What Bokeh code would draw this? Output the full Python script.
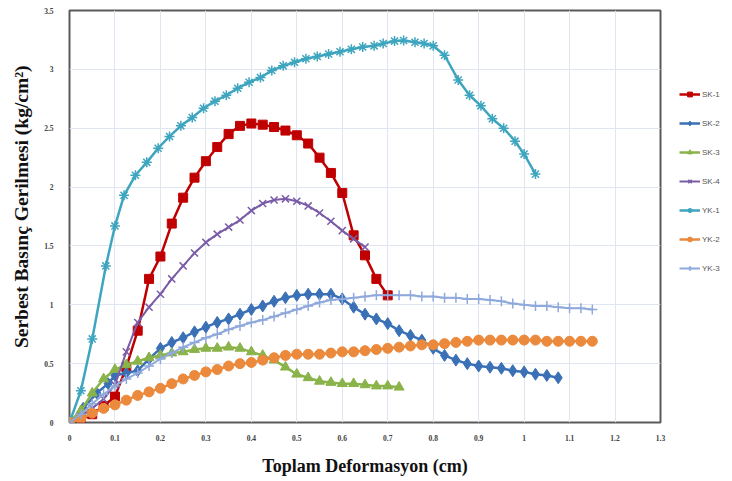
from bokeh.plotting import figure
from bokeh.models import FixedTicker, Legend, LegendItem
from bokeh.layouts import row
from bokeh.embed import file_html
from bokeh.resources import INLINE

# ---- data ----
sk1_x = [0, 0.025, 0.05, 0.075, 0.1, 0.125, 0.15, 0.175, 0.2, 0.225, 0.25, 0.275, 0.3, 0.325, 0.35,
         0.375, 0.4, 0.425, 0.45, 0.475, 0.5, 0.525, 0.55, 0.575, 0.6, 0.625, 0.65, 0.675, 0.7]
sk1_y = [0, 0.03, 0.07, 0.14, 0.22, 0.47, 0.78, 1.22, 1.41, 1.69, 1.91, 2.08, 2.22, 2.34, 2.45,
         2.52, 2.54, 2.53, 2.51, 2.48, 2.44, 2.37, 2.25, 2.12, 1.95, 1.59, 1.42, 1.22, 1.08]

sk2_x = [0, 0.03, 0.06, 0.085, 0.1, 0.125, 0.15, 0.175, 0.2, 0.225, 0.25, 0.275, 0.3, 0.325, 0.35,
         0.375, 0.4, 0.425, 0.45, 0.475, 0.5, 0.525, 0.55, 0.575, 0.6, 0.625, 0.65, 0.675, 0.7,
         0.725, 0.75, 0.775, 0.8, 0.825, 0.85, 0.875, 0.9, 0.925, 0.95, 0.975, 1.0, 1.025, 1.05, 1.075]
sk2_y = [0, 0.12, 0.25, 0.33, 0.40, 0.42, 0.44, 0.54, 0.63, 0.68, 0.72, 0.77, 0.81, 0.85, 0.88,
         0.92, 0.96, 0.99, 1.03, 1.06, 1.08, 1.09, 1.09, 1.09, 1.05, 0.98, 0.92, 0.88, 0.84,
         0.78, 0.74, 0.70, 0.63, 0.57, 0.53, 0.50, 0.48, 0.47, 0.46, 0.44, 0.43, 0.41, 0.40, 0.38]

sk3_x = [0, 0.025, 0.05, 0.075, 0.1, 0.125, 0.15, 0.175, 0.2, 0.225, 0.25, 0.275, 0.3, 0.325, 0.35,
         0.375, 0.4, 0.425, 0.45, 0.475, 0.5, 0.525, 0.55, 0.575, 0.6, 0.625, 0.65, 0.675, 0.7, 0.725]
sk3_y = [0, 0.1, 0.25, 0.37, 0.45, 0.49, 0.52, 0.55, 0.57, 0.59, 0.6, 0.62, 0.63, 0.63, 0.64,
         0.63, 0.6, 0.57, 0.53, 0.47, 0.41, 0.38, 0.35, 0.34, 0.33, 0.33, 0.32, 0.31, 0.31, 0.30]

sk4_x = [0, 0.025, 0.05, 0.075, 0.1, 0.125, 0.15, 0.175, 0.2, 0.225, 0.25, 0.275, 0.3, 0.325, 0.35,
         0.375, 0.4, 0.425, 0.45, 0.475, 0.5, 0.525, 0.55, 0.575, 0.6, 0.625, 0.65]
sk4_y = [0, 0.05, 0.12, 0.2, 0.32, 0.6, 0.85, 0.98, 1.09, 1.22, 1.33, 1.44, 1.53, 1.6, 1.66,
         1.72, 1.8, 1.86, 1.89, 1.9, 1.88, 1.84, 1.78, 1.71, 1.63, 1.56, 1.49]

yk1_x = [0, 0.025, 0.05, 0.08, 0.1, 0.12, 0.145, 0.17, 0.195, 0.22, 0.245, 0.27, 0.295, 0.32, 0.345,
         0.37, 0.395, 0.42, 0.445, 0.47, 0.495, 0.52, 0.545, 0.57, 0.595, 0.62, 0.645, 0.67, 0.69,
         0.715, 0.735, 0.76, 0.78, 0.8, 0.825, 0.855, 0.88, 0.905, 0.93, 0.955, 0.98, 1.0, 1.025]
yk1_y = [0, 0.27, 0.71, 1.33, 1.67, 1.93, 2.1, 2.21, 2.33, 2.43, 2.52, 2.59, 2.67, 2.73, 2.78,
         2.84, 2.89, 2.93, 2.99, 3.03, 3.06, 3.09, 3.11, 3.13, 3.15, 3.17, 3.19, 3.2, 3.22,
         3.24, 3.245, 3.23, 3.22, 3.2, 3.12, 2.91, 2.78, 2.69, 2.58, 2.5, 2.39, 2.28, 2.11]

yk2_x = [0, 0.025, 0.05, 0.075, 0.1, 0.125, 0.15, 0.175, 0.2, 0.225, 0.25, 0.275, 0.3, 0.325, 0.35,
         0.375, 0.4, 0.425, 0.45, 0.475, 0.5, 0.525, 0.55, 0.575, 0.6, 0.625, 0.65, 0.675, 0.7,
         0.725, 0.75, 0.775, 0.8, 0.825, 0.85, 0.875, 0.9, 0.925, 0.95, 0.975, 1.0, 1.025, 1.05,
         1.075, 1.1, 1.125, 1.15]
yk2_y = [0, 0.03, 0.08, 0.12, 0.15, 0.19, 0.23, 0.26, 0.29, 0.33, 0.37, 0.40, 0.43, 0.45, 0.48,
         0.50, 0.51, 0.53, 0.55, 0.57, 0.58, 0.58, 0.58, 0.59, 0.6, 0.6, 0.61, 0.62, 0.63,
         0.64, 0.65, 0.66, 0.66, 0.67, 0.68, 0.69, 0.70, 0.70, 0.70, 0.70, 0.70, 0.70, 0.69,
         0.69, 0.69, 0.69, 0.69]

yk3_x = [0, 0.025, 0.05, 0.075, 0.1, 0.125, 0.15, 0.175, 0.2, 0.225, 0.25, 0.275, 0.3, 0.325, 0.35,
         0.375, 0.4, 0.425, 0.45, 0.475, 0.5, 0.525, 0.55, 0.575, 0.6, 0.625, 0.65, 0.675, 0.7,
         0.725, 0.75, 0.775, 0.8, 0.825, 0.85, 0.875, 0.9, 0.925, 0.95, 0.975, 1.0, 1.025, 1.05,
         1.075, 1.1, 1.125, 1.15]
yk3_y = [0, 0.07, 0.16, 0.24, 0.31, 0.37, 0.42, 0.48, 0.54, 0.59, 0.64, 0.68, 0.72, 0.75, 0.79,
         0.82, 0.85, 0.87, 0.9, 0.93, 0.96, 0.99, 1.02, 1.04, 1.05, 1.06, 1.07, 1.08, 1.08,
         1.08, 1.08, 1.07, 1.07, 1.06, 1.06, 1.05, 1.05, 1.04, 1.03, 1.01, 1.0, 0.99, 0.99,
         0.98, 0.97, 0.97, 0.96]

x_ticks = [0, 0.1, 0.2, 0.3, 0.4, 0.5, 0.6, 0.7, 0.8, 0.9, 1.0, 1.1, 1.2, 1.3]
x_tick_labels = ["0", "0.1", "0.2", "0.3", "0.4", "0.5", "0.6", "0.7", "0.8", "0.9", "1", "1.1", "1.2", "1.3"]
y_ticks = [0, 0.5, 1.0, 1.5, 2.0, 2.5, 3.0, 3.5]
y_tick_labels = ["0", "0.5", "1", "1.5", "2", "2.5", "3", "3.5"]

series = [
    ("SK-1", sk1_x, sk1_y, "#c00000", "square", 9, 2.5),
    ("SK-2", sk2_x, sk2_y, "#3a70b6", "diamond", 12, 2.5),
    ("SK-3", sk3_x, sk3_y, "#8ab34a", "triangle", 10, 2.5),
    ("SK-4", sk4_x, sk4_y, "#7a5ba6", "x", 10, 2.0),
    ("YK-1", yk1_x, yk1_y, "#3ea5bf", "asterisk", 10, 2.5),
    ("YK-2", yk2_x, yk2_y, "#eb8a3c", "circle", 10, 2.5),
    ("YK-3", yk3_x, yk3_y, "#8fa9dc", "cross", 10, 2.0),
]

p = figure(width=666, height=481, output_backend="svg", toolbar_location=None,
           x_range=(0, 1.3), y_range=(0, 3.5))
p.min_border_left = 69
p.min_border_right = 6
p.min_border_top = 10
p.min_border_bottom = 59

p.outline_line_color = "#5a5a5a"
p.outline_line_width = 2
p.background_fill_color = "white"
p.border_fill_color = "white"

p.xgrid.grid_line_color = "#dfe5f1"
p.ygrid.grid_line_color = "#dfe5f1"
p.xgrid.grid_line_width = 1
p.ygrid.grid_line_width = 1

p.xaxis.ticker = FixedTicker(ticks=x_ticks)
p.yaxis.ticker = FixedTicker(ticks=y_ticks)
p.xaxis.major_label_overrides = {t: l for t, l in zip(x_ticks, x_tick_labels)}
p.yaxis.major_label_overrides = {t: l for t, l in zip(y_ticks, y_tick_labels)}

for ax in (p.xaxis, p.yaxis):
    ax.axis_line_color = None
    ax.major_tick_line_color = None
    ax.minor_tick_line_color = None
    ax.major_tick_out = 0
    ax.major_tick_in = 0
    ax.major_label_text_font = "Liberation Serif"
    ax.major_label_text_font_style = "bold"
    ax.major_label_text_font_size = "7.5px"
    ax.major_label_text_color = "#404040"
    ax.axis_label_text_font = "Liberation Serif"
    ax.axis_label_text_font_style = "bold"
    ax.axis_label_text_color = "#111111"

p.xaxis.axis_label_text_font_size = "18px"
p.yaxis.axis_label_text_font_size = "19.5px"
p.xaxis.major_label_standoff = 12
p.yaxis.major_label_standoff = 16
p.xaxis.axis_label = "Toplam Deformasyon (cm)"
p.yaxis.axis_label = "\u00a0\u00a0\u00a0\u00a0Serbest Basınç Gerilmesi (kg/cm²)"
p.xaxis.axis_label_standoff = 12
p.yaxis.axis_label_standoff = 9

# legend panel: a small side figure whose ranges keep its copies of the series out of view
lp = figure(width=66, height=481, output_backend="svg", toolbar_location=None,
            x_axis_location=None, y_axis_location=None, x_range=(10, 11), y_range=(10, 11))
lp.min_border = 0
lp.outline_line_color = None
lp.xgrid.visible = False
lp.ygrid.visible = False

items = []
for name, xs, ys, col, marker, size, lw in series:
    mlw = 1.5 if marker in ("x", "asterisk", "cross") else 1
    p.line(xs, ys, line_color=col, line_width=lw)
    p.scatter(xs, ys, marker=marker, size=size, fill_color=col, line_color=col, line_width=mlw)
    l1 = lp.line(xs, ys, line_color=col, line_width=lw)
    l2 = lp.scatter(xs, ys, marker=marker, size=min(size, 9), fill_color=col, line_color=col, line_width=mlw)
    items.append(LegendItem(label=name, renderers=[l1, l2]))

legend = Legend(items=items, location=(13, 148))
legend.background_fill_alpha = 0
legend.border_line_color = None
legend.padding = 0
legend.margin = 0
legend.glyph_width = 21
legend.glyph_height = 12
legend.label_height = 12
legend.spacing = 17
legend.label_standoff = 2
legend.label_text_font = "Liberation Sans"
legend.label_text_font_size = "8px"
legend.label_text_color = "#555555"
lp.add_layout(legend, "center")

layout = row(p, lp, spacing=0)
open("out.html", "w").write(file_html(layout, INLINE))
